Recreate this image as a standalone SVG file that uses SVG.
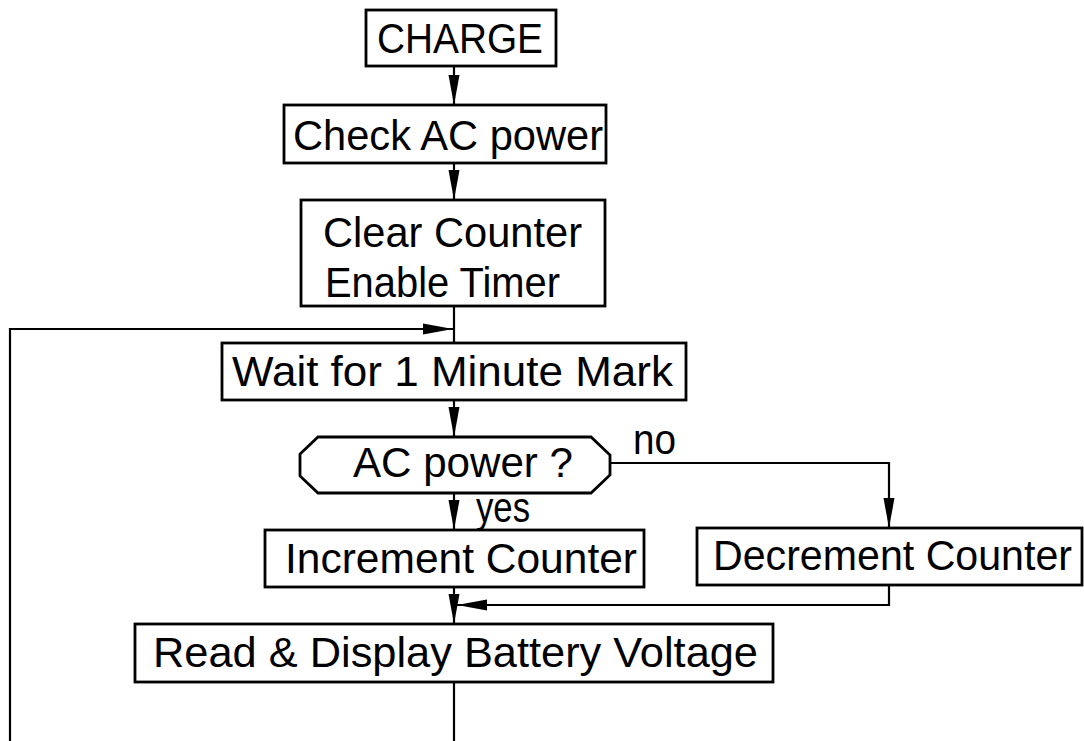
<svg xmlns="http://www.w3.org/2000/svg" width="1084" height="741" viewBox="0 0 1084 741">
<style>
.box{fill:#fff;stroke:#000;stroke-width:2.8}
.ln{fill:none;stroke:#000;stroke-width:2.2}
.t{font-family:"Liberation Sans",Arial,sans-serif;font-size:42px;fill:#000}
</style>
<defs>
<marker id="ah" markerUnits="userSpaceOnUse" markerWidth="30" markerHeight="12" viewBox="0 0 30 12" refX="30" refY="6" orient="auto">
<path d="M0,0.5 L30,6 L0,11.5 z" fill="#000"/>
</marker>
</defs>
<rect width="1084" height="741" fill="#fff"/>
<g id="connectors">
<line class="ln" x1="454" y1="66" x2="454" y2="105" marker-end="url(#ah)"/>
<line class="ln" x1="454" y1="163" x2="454" y2="200" marker-end="url(#ah)"/>
<line class="ln" x1="454" y1="306" x2="454" y2="343"/>
<polyline class="ln" points="10,741 10,329 453,329" marker-end="url(#ah)"/>
<line class="ln" x1="454" y1="400" x2="454" y2="437" marker-end="url(#ah)"/>
<polyline class="ln" points="610,463 889,463 889,528" marker-end="url(#ah)"/>
<line class="ln" x1="454" y1="493" x2="454" y2="530" marker-end="url(#ah)"/>
<polyline class="ln" points="889,585 889,605 457,605" marker-end="url(#ah)"/>
<line class="ln" x1="454" y1="587" x2="454" y2="624" marker-end="url(#ah)"/>
<line class="ln" x1="454" y1="682" x2="454" y2="741"/>
<text class="t" x="633" y="454" textLength="43" lengthAdjust="spacingAndGlyphs">no</text>
<text class="t" x="476" y="522" textLength="54" lengthAdjust="spacingAndGlyphs">yes</text>
</g>
<g id="charge">
<rect class="box" x="366" y="10" width="190" height="56"/>
<text class="t" x="377" y="53" textLength="166" lengthAdjust="spacingAndGlyphs">CHARGE</text>
</g>
<g id="check-ac">
<rect class="box" x="284" y="105" width="322" height="58"/>
<text class="t" x="293" y="150" textLength="310" lengthAdjust="spacingAndGlyphs">Check AC power</text>
</g>
<g id="clear-enable">
<rect class="box" x="301" y="200" width="304" height="106"/>
<text class="t" x="323" y="247" textLength="259" lengthAdjust="spacingAndGlyphs">Clear Counter</text>
<text class="t" x="325" y="297" textLength="235" lengthAdjust="spacingAndGlyphs">Enable Timer</text>
</g>
<g id="wait">
<rect class="box" x="222" y="343" width="464" height="57"/>
<text class="t" x="232" y="386" textLength="441" lengthAdjust="spacingAndGlyphs">Wait for 1 Minute Mark</text>
</g>
<g id="decision">
<polygon class="box" points="318,437 591,437 610,455 610,475 591,493 318,493 300,476 300,454"/>
<text class="t" x="353" y="477" textLength="220" lengthAdjust="spacingAndGlyphs">AC power ?</text>
</g>
<g id="increment">
<rect class="box" x="265" y="530" width="379" height="57"/>
<text class="t" x="285" y="573" textLength="352" lengthAdjust="spacingAndGlyphs">Increment Counter</text>
</g>
<g id="decrement">
<rect class="box" x="697" y="528" width="385" height="57"/>
<text class="t" x="713" y="570" textLength="359" lengthAdjust="spacingAndGlyphs">Decrement Counter</text>
</g>
<g id="read-display">
<rect class="box" x="135" y="624" width="638" height="58"/>
<text class="t" x="153" y="667" textLength="605" lengthAdjust="spacingAndGlyphs">Read &amp; Display Battery Voltage</text>
</g>
</svg>
